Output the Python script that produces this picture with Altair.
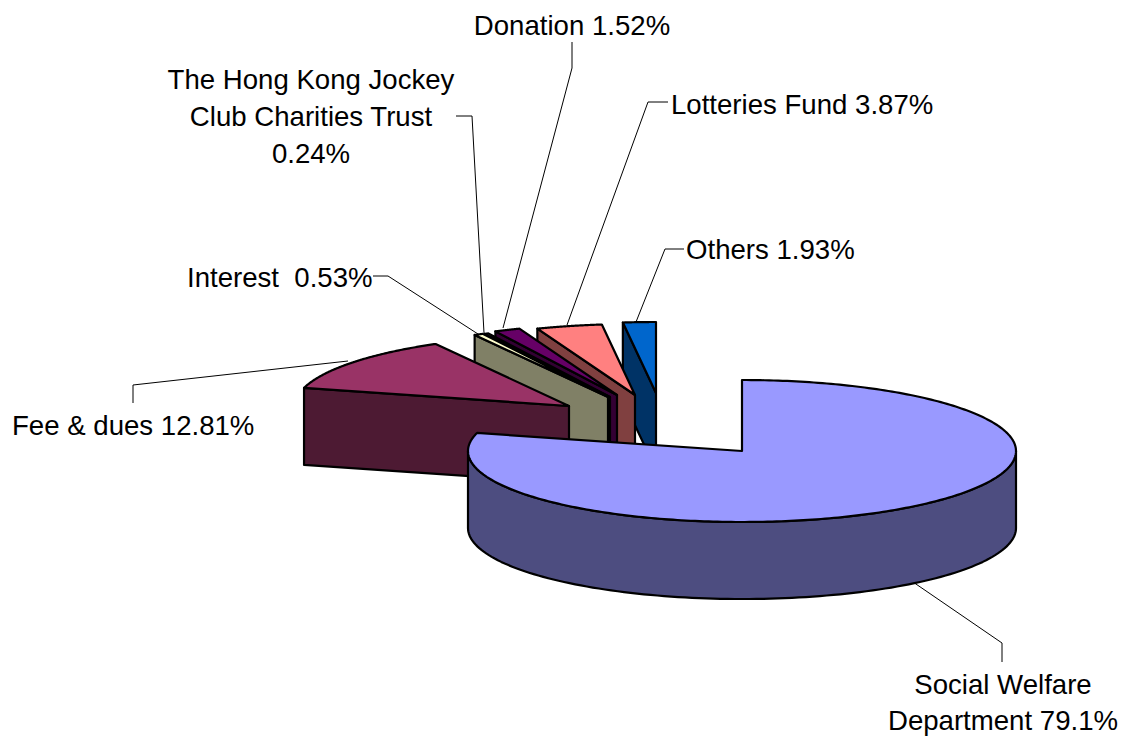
import math
import altair as alt
import pandas as pd

# Income sources, clockwise from twelve o'clock
SOURCES = ["Social Welfare Department", "Fee & dues", "Interest",
           "The Hong Kong Jockey Club Charities Trust", "Donation",
           "Lotteries Fund", "Others"]
SHARES = [79.1, 12.81, 0.53, 0.24, 1.52, 3.87, 1.93]
TOP_COLORS = ["#9999FF", "#993366", "#FFFFCC", "#CCFFFF", "#660066", "#FF8080", "#0066CC"]
SIDE_COLORS = ["#4D4D80", "#4D1A33", "#808066", "#668080", "#330033", "#804040", "#003366"]

# Pie geometry: tilted ellipse, thickness and the hub of each exploded slice
RX, RY, DEPTH = 274, 71, 77
HUBS = [(742, 451), (569, 406), (608, 397), (610, 397), (617, 395), (635, 395), (656, 393)]

# Callout text rows: text, x, y, alignment
LABEL_ROWS = [
    ("Donation 1.52%", 572, 27, "center"),
    ("The Hong Kong Jockey", 311, 81, "center"),
    ("Club Charities Trust", 311, 118, "center"),
    ("0.24%", 311, 155, "center"),
    ("Lotteries Fund 3.87%", 671, 106, "left"),
    ("Others 1.93%", 686, 251, "left"),
    ("Interest\u00a0 0.53%", 187, 279, "left"),
    ("Fee & dues 12.81%", 12, 427, "left"),
    ("Social Welfare", 1003, 686, "center"),
    ("Department 79.1%", 1003, 722, "center"),
]

# Callout leader paths
LEADERS = [
    [(913, 582), (1002, 643), (1002, 662)],
    [(348, 361), (133, 385), (133, 403)],
    [(373, 276), (388, 276), (478, 334)],
    [(456, 116), (472, 116), (484, 333)],
    [(572, 42), (572, 68), (503, 328)],
    [(668, 102), (648, 102), (567, 325)],
    [(684, 249), (665, 249), (636, 322)],
]


def rim_point(hub, degrees):
    a = math.radians(degrees)
    return (hub[0] + RX * math.sin(a), hub[1] - RY * math.cos(a))


def arc(hub, start, end, steps=120):
    return [rim_point(hub, start + (end - start) * i / steps) for i in range(steps + 1)]


def polygon(points, fill):
    ring = [list(p) for p in points] + [list(points[0])]
    return {"type": "Feature", "properties": {"fill": fill},
            "geometry": {"type": "Polygon", "coordinates": [ring]}}


def drop(points):
    return [(x, y + DEPTH) for x, y in points]


# Slice angles come straight from the shares
spans = []
running = 0.0
for share in SHARES:
    spans.append((running * 3.6, (running + share) * 3.6))
    running += share

# Painted back to front: the small slices, then Fee & dues, then the large slice
faces = []
for i in range(len(SHARES) - 1, 0, -1):
    hub = HUBS[i]
    start, end = spans[i]
    corner = rim_point(hub, start)
    faces.append(polygon([hub, corner] + drop([corner, hub]), SIDE_COLORS[i]))
    faces.append(polygon([hub] + arc(hub, start, end), TOP_COLORS[i]))

hub = HUBS[0]
start, end = spans[0]
front = arc(hub, 90, 270)
faces.append(polygon(front + drop(front)[::-1], SIDE_COLORS[0]))
faces.append(polygon([hub] + arc(hub, start, end, 300), TOP_COLORS[0]))

leader_features = [
    {"type": "Feature", "properties": {},
     "geometry": {"type": "LineString", "coordinates": [list(p) for p in path]}}
    for path in LEADERS
]

pixels = alt.Projection(type="identity", scale=1, translate=[0, 0])

slices = alt.Chart(alt.Data(values=faces)).mark_geoshape(
    stroke="black", strokeWidth=2.2, strokeJoin="round"
).encode(fill=alt.Fill("properties.fill:N", scale=None)).project(**pixels.to_dict())

leaders = alt.Chart(alt.Data(values=leader_features)).mark_geoshape(
    filled=False, stroke="black", strokeWidth=1
).project(**pixels.to_dict())

rows = pd.DataFrame(LABEL_ROWS, columns=["text", "x", "y", "align"])
text_layers = [
    alt.Chart(rows[rows["align"] == side]).mark_text(
        align=side, baseline="middle", font="Liberation Sans", fontSize=27.6, color="black"
    ).encode(
        x=alt.X("x:Q", scale=None, axis=None),
        y=alt.Y("y:Q", scale=None, axis=None),
        text="text:N",
    )
    for side in ("center", "left")
]

chart = alt.layer(leaders, slices, *text_layers).properties(
    width=1123, height=736, padding=0, background="white",
    autosize=alt.AutoSizeParams(type="none")
).configure_view(stroke=None)

chart.save("out.html", embed_options={"renderer": "svg", "actions": False})
